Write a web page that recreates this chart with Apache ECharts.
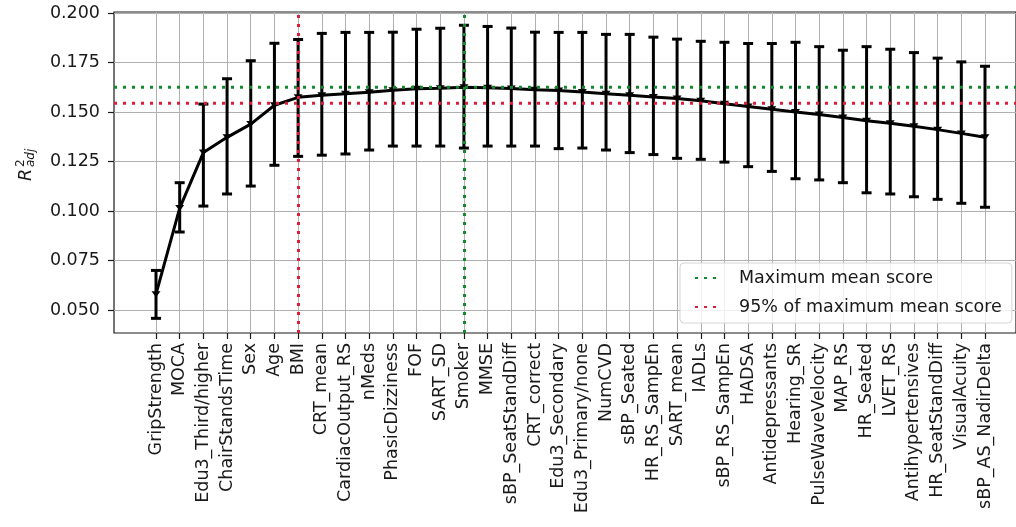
<!DOCTYPE html>
<html>
<head>
<meta charset="utf-8">
<script src="https://cdn.jsdelivr.net/npm/echarts@6/dist/echarts.min.js"></script>
<style>
  html, body { margin: 0; padding: 0; background: #fff; }
  #chart { width: 1016px; height: 527px; }
</style>
</head>
<body>
<div id="chart"></div>
<script>
// Features in the order they were added to the model
const categories = [
  'GripStrength', 'MOCA', 'Edu3_Third/higher', 'ChairStandsTime', 'Sex', 'Age', 'BMI',
  'CRT_mean', 'CardiacOutput_RS', 'nMeds', 'PhasicDizziness', 'FOF', 'SART_SD', 'Smoker',
  'MMSE', 'sBP_SeatStandDiff', 'CRT_correct', 'Edu3_Secondary', 'Edu3_Primary/none', 'NumCVD',
  'sBP_Seated', 'HR_RS_SampEn', 'SART_mean', 'IADLs', 'sBP_RS_SampEn', 'HADSA',
  'Antidepressants', 'Hearing_SR', 'PulseWaveVelocity', 'MAP_RS', 'HR_Seated', 'LVET_RS',
  'Antihypertensives', 'HR_SeatStandDiff', 'VisualAcuity', 'sBP_AS_NadirDelta'
];

// Mean adjusted R² across folds
const meanScore = [
  0.0580, 0.1015, 0.1295, 0.1372, 0.1439, 0.1534, 0.1574,
  0.1584, 0.1592, 0.1600, 0.1610, 0.1617, 0.1620, 0.1625,
  0.1623, 0.1619, 0.1612, 0.1608, 0.1601, 0.1592,
  0.1584, 0.1576, 0.1568, 0.1557, 0.1542, 0.1528,
  0.1514, 0.1500, 0.1487, 0.1472, 0.1456, 0.1443,
  0.1428, 0.1411, 0.1392, 0.1372
];

// Upper end of the error bars
const upperScore = [
  0.0700, 0.1143, 0.1540, 0.1668, 0.1759, 0.1847, 0.1866,
  0.1897, 0.1902, 0.1902, 0.1903, 0.1918, 0.1923, 0.1938,
  0.1932, 0.1924, 0.1903, 0.1902, 0.1902, 0.1892,
  0.1892, 0.1878, 0.1868, 0.1857, 0.1852, 0.1846,
  0.1846, 0.1852, 0.1830, 0.1812, 0.1830, 0.1817,
  0.1800, 0.1772, 0.1753, 0.1731
];

// Lower end of the error bars
const lowerScore = [
  0.0458, 0.0894, 0.1025, 0.1086, 0.1126, 0.1231, 0.1276,
  0.1282, 0.1288, 0.1308, 0.1328, 0.1328, 0.1328, 0.1318,
  0.1328, 0.1328, 0.1328, 0.1315, 0.1318, 0.1308,
  0.1295, 0.1285, 0.1266, 0.1261, 0.1247, 0.1224,
  0.1200, 0.1163, 0.1157, 0.1143, 0.1092, 0.1086,
  0.1072, 0.1059, 0.1039, 0.1019
];

const yTicks = [0.050, 0.075, 0.100, 0.125, 0.150, 0.175, 0.200];
const yRange = [0.0384, 0.2005];

const legendNames = ['Maximum mean score', '95% of maximum mean score'];

// Reference levels derived from the means
const maxMean = Math.max(...meanScore);
const maxIndex = meanScore.indexOf(maxMean);
const threshold = 0.95 * maxMean;
const firstIndex = meanScore.findIndex(v => v >= threshold);

const FONT = 'DejaVu Sans';
const FS = 17.5;
const INK = '#1a1a1a';
const GRID = '#b0b0b0';
const GREEN = '#118a2e';
const RED = '#dc1e3a';
const DOTS = [3, 6];
const CLEAR = 'rgba(0,0,0,0)';

const chart = echarts.init(document.getElementById('chart'), null, { renderer: 'canvas' });

const option = {
  animation: false,
  backgroundColor: '#fff',
  grid: [
    // full plotting frame (its right side runs past the canvas edge)
    { left: 114, right: -11, top: 12, bottom: 194, show: true,
      borderColor: INK, borderWidth: 1.2, backgroundColor: '#fff' },
    // category area, inset from the frame by the axis margins
    { left: 156, right: 31, top: 12, bottom: 194 }
  ],
  xAxis: [
    { gridIndex: 0, type: 'value', min: 0, max: 1, show: false },
    {
      gridIndex: 1, type: 'category', data: categories, boundaryGap: false,
      axisLine: { show: false },
      axisTick: { show: true, length: 6, lineStyle: { color: INK, width: 1.2 } },
      axisLabel: { rotate: 90, interval: 0, margin: 10, color: INK, fontFamily: FONT, fontSize: FS },
      splitLine: { show: true, lineStyle: { color: GRID, width: 1 } }
    }
  ],
  yAxis: [
    {
      gridIndex: 0, type: 'value', min: yRange[0], max: yRange[1],
      axisLine: { show: false },
      axisTick: { show: true, length: 6, customValues: yTicks, lineStyle: { color: INK, width: 1.2 } },
      axisLabel: { customValues: yTicks, margin: 14, color: INK, fontFamily: FONT, fontSize: FS,
                   formatter: v => v.toFixed(3) },
      splitLine: { show: true, lineStyle: { color: GRID, width: 1 } }
    },
    { gridIndex: 1, type: 'value', min: yRange[0], max: yRange[1], show: false }
  ],
  legend: {
    data: legendNames,
    orient: 'vertical',
    left: 680, top: 263,
    padding: [5, 10, 6, 14],
    itemWidth: 27, itemHeight: 14, itemGap: 9,
    backgroundColor: 'rgba(255,255,255,0.8)',
    borderColor: '#d4d4d4', borderWidth: 1, borderRadius: 4,
    textStyle: { fontFamily: FONT, fontSize: FS, color: INK, lineHeight: 20, padding: [0, 0, 0, 12] }
  },
  graphic: [{
    type: 'group', x: 26, y: 167, rotation: Math.PI / 2, silent: true,
    children: [
      { type: 'text', x: -14, y: 0,
        style: { text: 'R', fontFamily: FONT, fontStyle: 'italic', fontSize: FS, fill: INK,
                 align: 'left', verticalAlign: 'middle' } },
      { type: 'text', x: 0, y: -5.5,
        style: { text: '2', fontFamily: FONT, fontSize: 12, fill: INK,
                 align: 'left', verticalAlign: 'middle' } },
      { type: 'text', x: 0, y: 4.5,
        style: { text: 'adj', fontFamily: FONT, fontStyle: 'italic', fontSize: 12, fill: INK,
                 align: 'left', verticalAlign: 'middle' } }
    ]
  }],
  series: [
    {
      name: legendNames[0], type: 'line', xAxisIndex: 0, yAxisIndex: 0,
      data: [[0, maxMean], [1, maxMean]], symbol: 'none', silent: true, z: 4,
      itemStyle: { color: CLEAR, borderWidth: 0 },
      lineStyle: { color: GREEN, width: 3, type: DOTS, cap: 'butt' }
    },
    {
      name: legendNames[1], type: 'line', xAxisIndex: 0, yAxisIndex: 0,
      data: [[0, threshold], [1, threshold]], symbol: 'none', silent: true, z: 4,
      itemStyle: { color: CLEAR, borderWidth: 0 },
      lineStyle: { color: RED, width: 3, type: DOTS, cap: 'butt' }
    },
    {
      name: 'errors', type: 'custom', xAxisIndex: 1, yAxisIndex: 1, z: 2, silent: true,
      data: categories.map((c, i) => [i, lowerScore[i], upperScore[i]]),
      renderItem: function (params, api) {
        const lo = api.coord([api.value(0), api.value(1)]);
        const hi = api.coord([api.value(0), api.value(2)]);
        const cap = 5;
        const style = { stroke: '#000', lineWidth: 3 };
        return {
          type: 'group',
          children: [
            { type: 'line', shape: { x1: lo[0], y1: lo[1], x2: hi[0], y2: hi[1] }, style },
            { type: 'line', shape: { x1: lo[0] - cap, y1: lo[1], x2: lo[0] + cap, y2: lo[1] }, style },
            { type: 'line', shape: { x1: hi[0] - cap, y1: hi[1], x2: hi[0] + cap, y2: hi[1] }, style }
          ]
        };
      }
    },
    {
      name: 'mean', type: 'line', xAxisIndex: 1, yAxisIndex: 1, z: 3, silent: true,
      data: meanScore,
      symbol: 'path://M0,0 L10,0 L5,7 Z', symbolSize: [9, 6], showAllSymbol: true,
      itemStyle: { color: '#000' },
      lineStyle: { color: '#000', width: 3 },
      markLine: {
        silent: true, symbol: 'none', label: { show: false }, z: 5,
        data: [
          { xAxis: firstIndex, lineStyle: { color: RED, width: 3, type: DOTS } },
          { xAxis: maxIndex, lineStyle: { color: GREEN, width: 3, type: DOTS } }
        ]
      }
    }
  ]
};

chart.setOption(option);
</script>
</body>
</html>
